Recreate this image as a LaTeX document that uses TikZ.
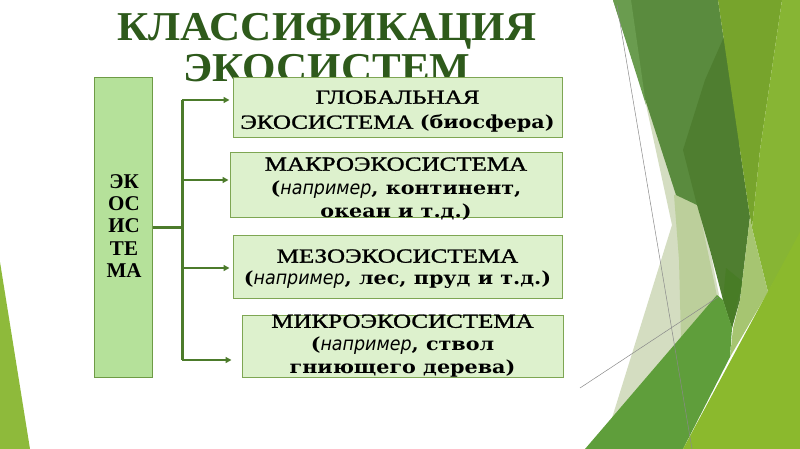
\documentclass[tikz,border=0pt]{standalone}
\usepackage{fontspec}
\setmainfont{Liberation Serif}
\newfontfamily\ttlfont[FakeStretch=1.05]{Liberation Serif}
\newfontfamily\capsfont[FakeStretch=1.25,FakeBold=1.3]{Liberation Serif}
\newfontfamily\ecofont{Liberation Serif}
\newfontfamily\lowfont[FakeStretch=1.15]{DejaVu Serif}
\newfontfamily\slantfont[FakeStretch=0.92]{DejaVu Sans}
\usetikzlibrary{arrows.meta}
\definecolor{titlegreen}{HTML}{2E5A1B}
\definecolor{ecofill}{HTML}{B5E19A}
\definecolor{ecoborder}{HTML}{6E9B45}
\definecolor{boxfill}{HTML}{DDF1CD}
\definecolor{boxborder}{HTML}{7EA653}
\definecolor{linkgreen}{HTML}{4C7B2B}
\definecolor{leftlime}{HTML}{8EBA3B}
\definecolor{paleA}{HTML}{D4DDC1}
\definecolor{paleB}{HTML}{BCCF9B}
\definecolor{medgreen}{HTML}{5A8B3E}
\definecolor{medlight}{HTML}{6A9C4F}
\definecolor{darkgreen}{HTML}{4F7E30}
\definecolor{darktip}{HTML}{487C26}
\definecolor{olive}{HTML}{77A42C}
\definecolor{rightgreen}{HTML}{87B534}
\definecolor{palegreen}{HTML}{A6C571}
\definecolor{bandgreen}{HTML}{5F9E3B}
\definecolor{lime}{HTML}{8BB92D}
\definecolor{thinline}{HTML}{8A8A8A}
\newcommand\CapLine[1]{{\capsfont #1}}
\newcommand\BoldLow[1]{{\lowfont\bfseries\fontsize{18}{18}\selectfont #1}}
\newcommand\ItLow[1]{{\slantfont\itshape\fontsize{19}{18}\selectfont #1}}
\tikzset{
  titlestyle/.style={align=center, inner sep=0pt, text=titlegreen, font=\ttlfont\bfseries\fontsize{41}{41}\selectfont},
  ecobox/.style={draw=ecoborder, fill=ecofill, line width=1pt, inner sep=0pt},
  kindbox/.style={draw=boxborder, fill=boxfill, line width=1pt, inner sep=0pt},
  boxtext/.style={align=center, inner sep=0pt, text=black},
  trunk/.style={draw=linkgreen, line width=3pt},
  branch/.style={draw=linkgreen, line width=2pt, -{Triangle[length=6pt,width=6pt]}}
}
\begin{document}
\begin{tikzpicture}[x=1pt,y=-1pt]
\useasboundingbox (0,0) rectangle (800,449);
\fill[white] (0,0) rectangle (800,449);
% decorations
\fill[leftlime] (0,262) -- (30,449) -- (0,449) -- cycle;
\fill[paleA] (645,100) -- (672,225) -- (612,418) -- (700,400) -- (720,300) -- (690,150) -- cycle;
\fill[paleB] (674,195) -- (695,190) -- (717,296) -- (681,340) -- (679,260) -- cycle;
\fill[medgreen] (613,0) -- (718,0) -- (740,150) -- (697,205) -- (676,195) -- cycle;
\fill[medlight] (613,0) -- (631,0) -- (646,105) -- cycle;
\fill[darkgreen] (727,30) -- (705,80) -- (683,150) -- (697,205) -- (710,250) -- (723,300) -- (732,328) -- (740,300) -- (750,217) -- (740,150) -- cycle;
\fill[darktip] (726,268) -- (743,282) -- (737,303) -- (732,328) -- (723,300) -- cycle;
\fill[olive] (718,0) -- (782,0) -- (760,150) -- (752,228) -- (750,217) -- (740,150) -- cycle;
\fill[rightgreen] (782,0) -- (800,0) -- (800,235) -- (768,292) -- (752,228) -- (760,150) -- cycle;
\fill[palegreen] (750,217) -- (752,228) -- (768,292) -- (730,357) -- (733,328) -- (740,300) -- cycle;
\fill[bandgreen] (585,449) -- (717,295) -- (723,300) -- (732,328) -- (730,357) -- (683,449) -- cycle;
\fill[lime] (683,449) -- (800,232) -- (800,449) -- cycle;
\draw[thinline, line width=0.5pt] (617,5) -- (692,449);
\draw[thinline, line width=0.5pt] (580,388) -- (718,297);
% title
\node[titlestyle] (title) at (327,48) {КЛАССИФИКАЦИЯ\\ЭКОСИСТЕМ};
% boxes
\node[ecobox, minimum width=58pt, minimum height=299pt] (eco) at (123,227.5) {};
\node[boxtext, font=\ecofont\bfseries\fontsize{21}{22.3}\selectfont] (ecot) at (124,226) {ЭК\\ОС\\ИС\\ТЕ\\МА};
\node[kindbox, minimum width=329pt, minimum height=60pt] (b1) at (397.5,108) {};
\node[kindbox, minimum width=332pt, minimum height=64pt] (b2) at (396,185) {};
\node[kindbox, minimum width=329pt, minimum height=63pt] (b3) at (397.5,266.5) {};
\node[kindbox, minimum width=321pt, minimum height=62pt] (b4) at (402.5,346) {};
\node[boxtext, font=\capsfont\fontsize{20}{25}\selectfont] (t1) at (397.5,111.5)
  {\CapLine{ГЛОБАЛЬНАЯ}\\\CapLine{ЭКОСИСТЕМА} \BoldLow{(биосфера)}};
\node[boxtext, font=\capsfont\fontsize{20}{23.5}\selectfont] (t2) at (396,189)
  {\CapLine{МАКРОЭКОСИСТЕМА}\\\BoldLow{(}\ItLow{например}\BoldLow{, континент,}\\\BoldLow{океан и т.д.)}};
\node[boxtext, font=\capsfont\fontsize{20}{22}\selectfont] (t3) at (397.5,269)
  {\CapLine{МЕЗОЭКОСИСТЕМА}\\\BoldLow{(}\ItLow{например}\BoldLow{, лес, пруд и т.д.)}};
\node[boxtext, font=\capsfont\fontsize{20}{23}\selectfont] (t4) at (402.5,346)
  {\CapLine{МИКРОЭКОСИСТЕМА}\\\BoldLow{(}\ItLow{например}\BoldLow{, ствол}\\\BoldLow{гниющего дерева)}};
% connectors
\coordinate (hub) at (182,227.5);
\coordinate (k1) at (182,100);
\coordinate (k2) at (182,180);
\coordinate (k3) at (182,268);
\coordinate (k4) at (182,360);
\draw[trunk] (eco.east) -- (hub);
\draw[trunk] (k1) -- (k4);
\draw[branch, shorten >=3pt] (k1) -- (k1 -| b1.west);
\draw[branch, shorten >=1pt] (k2) -- (k2 -| b2.west);
\draw[branch, shorten >=3pt] (k3) -- (k3 -| b3.west);
\draw[branch, shorten >=10pt] (k4) -- (k4 -| b4.west);
\end{tikzpicture}
\end{document}
